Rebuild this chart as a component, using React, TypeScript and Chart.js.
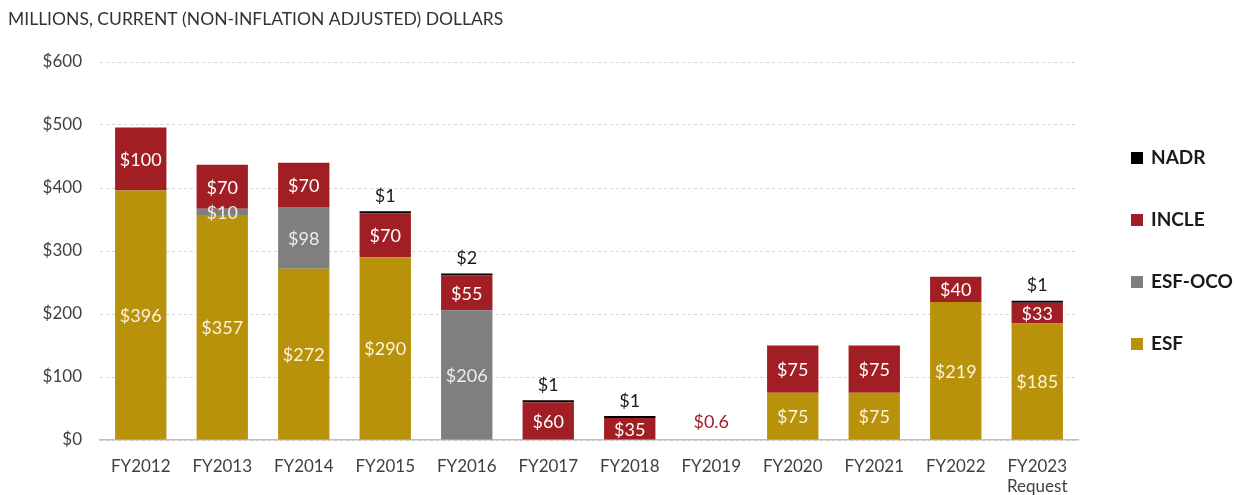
import React, { useEffect, useRef } from "react";
import { Chart, registerables } from "chart.js";
Chart.register(...registerables);

const categories: (string | string[])[] = [
  "FY2012", "FY2013", "FY2014", "FY2015", "FY2016", "FY2017",
  "FY2018", "FY2019", "FY2020", "FY2021", "FY2022", ["FY2023", "Request"],
];
const esf = [396, 357, 272, 290, 0, 0, 0, 0, 75, 75, 219, 185];
const esfOco = [0, 10, 98, 0, 206, 0, 0, 0, 0, 0, 0, 0];
const incle = [100, 70, 70, 70, 55, 60, 35, 0.6, 75, 75, 40, 33];
const nadr = [null, null, null, 1, 2, 1, 1, null, null, null, null, 1];
const yTicks = [0, 100, 200, 300, 400, 500, 600];
const titleText = "MILLIONS, CURRENT (NON-INFLATION ADJUSTED) DOLLARS";

const FONT = "Lato, 'Open Sans', sans-serif";
const COLORS = { esf: "#b8920a", oco: "#7f7f7f", incle: "#a11f24", nadr: "#000000" };

const labelPlugin = {
  id: "valueLabels",
  afterDatasetsDraw(chart: any) {
    const ctx = chart.ctx;
    ctx.save();
    ctx.textAlign = "center";
    ctx.textBaseline = "middle";
    ctx.font = `18px ${FONT}`;
    chart.data.datasets.forEach((ds: any, di: number) => {
      const meta = chart.getDatasetMeta(di);
      meta.data.forEach((bar: any, i: number) => {
        const v = ds.data[i];
        if (v == null || v === 0) return;
        const txt = "$" + v;
        if (ds.label === "NADR") {
          ctx.fillStyle = "#1a1a1a";
          ctx.fillText(txt, bar.x, bar.y - 15);
        } else if (v < 5) {
          ctx.fillStyle = ds.backgroundColor;
          ctx.fillText(txt, bar.x, bar.y - 17);
        } else {
          ctx.fillStyle = ds.label === "ESF" ? "#fbf3dc" : ds.label === "ESF-OCO" ? "#ececec" : "#ffffff";
          ctx.fillText(txt, bar.x, (bar.y + bar.base) / 2 + 1);
        }
      });
    });
    ctx.restore();
  },
};

const legendPlugin = {
  id: "sideLegend",
  afterDraw(chart: any) {
    const ctx = chart.ctx;
    const area = chart.chartArea;
    const mid = (area.top + area.bottom) / 2;
    const items = [...chart.data.datasets].reverse();
    ctx.save();
    ctx.font = `bold 19px ${FONT}`;
    ctx.textBaseline = "middle";
    ctx.textAlign = "left";
    items.forEach((ds: any, i: number) => {
      const y = mid + (i - 1.5) * 62;
      const x = area.right + 53;
      ctx.fillStyle = ds.backgroundColor;
      ctx.fillRect(x, y - 6, 12, 12);
      ctx.fillStyle = "#1a1a1a";
      ctx.fillText(ds.label, x + 20, y);
    });
    ctx.restore();
  },
};

export default function App() {
  const ref = useRef<HTMLCanvasElement>(null);
  useEffect(() => {
    if (!ref.current) return;
    const chart = new Chart(ref.current, {
      type: "bar",
      data: {
        labels: categories as any,
        datasets: [
          { label: "ESF", data: esf, backgroundColor: COLORS.esf },
          { label: "ESF-OCO", data: esfOco, backgroundColor: COLORS.oco },
          { label: "INCLE", data: incle, backgroundColor: COLORS.incle },
          { label: "NADR", data: nadr as any, backgroundColor: COLORS.nadr, minBarLength: 2 } as any,
        ],
      },
      options: {
        animation: false,
        responsive: true,
        maintainAspectRatio: false,
        datasets: { bar: { barPercentage: 0.63, categoryPercentage: 1 } },
        layout: { padding: { left: 8, right: 156, top: 0, bottom: 0 } },
        plugins: {
          legend: { display: false },
          tooltip: { enabled: false },
          title: {
            display: true,
            text: titleText,
            align: "start",
            color: "#333333",
            font: { family: FONT, size: 17.5, weight: "normal" },
            padding: { top: 9, bottom: 32 },
          },
        },
        scales: {
          x: {
            stacked: true,
            afterFit(scale: any) { scale.height = 55; },
            grid: { display: false, drawTicks: false },
            border: { display: true, color: "#bfbfbf", width: 1.5 },
            ticks: { color: "#404040", font: { family: FONT, size: 17 }, padding: 16, maxRotation: 0, autoSkip: false },
          },
          y: {
            stacked: true,
            min: 0,
            max: 600,
            afterFit(scale: any) { scale.width = 92; },
            afterBuildTicks(scale: any) { scale.ticks = yTicks.map((v) => ({ value: v })); },
            grid: { color: "#d4d4d4", drawTicks: false, lineWidth: 1 },
            border: { display: false, dash: [3, 3] },
            ticks: {
              color: "#404040",
              font: { family: FONT, size: 17 },
              padding: 18,
              callback: (v: any) => "$" + v,
            },
          },
        },
      },
      plugins: [labelPlugin, legendPlugin],
    });
    return () => chart.destroy();
  }, []);
  return (
    <div style={{ position: "fixed", left: 0, top: 0, width: 1234, height: 495, background: "#fff" }}>
      <canvas ref={ref} />
    </div>
  );
}
